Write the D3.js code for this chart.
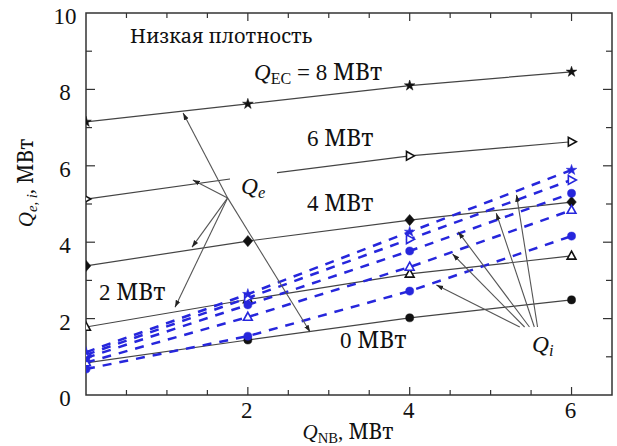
<!DOCTYPE html>
<html>
<head>
<meta charset="utf-8">
<script src="https://cdn.jsdelivr.net/npm/d3@7"></script>
<style>
  html, body { margin: 0; padding: 0; background: #fff; }
  svg { display: block; }
  text { font-family: "Times New Roman", serif; fill: #111; }
  .cyr { font-family: "Noto Serif", "DejaVu Serif", serif; }
</style>
</head>
<body>
<svg id="chart" width="617" height="446"></svg>
<script>
// Neutral-beam power, MW
const qnb = [0, 2, 4, 6];
// ECRH power levels, MW
const qecLevels = [0, 2, 4, 6, 8];

// Electron heat flux Qe (solid lines), one series per ECRH level
const qe0 = [0.84, 1.44, 2.02, 2.49];
const qe2 = [1.78, 2.50, 3.17, 3.64];
const qe4 = [3.38, 4.03, 4.58, 5.05];
const qe6 = [5.13, 5.72, 6.26, 6.63];
const qe8 = [7.15, 7.62, 8.10, 8.46];

// Ion heat flux Qi (dashed lines), one series per ECRH level
const qi0 = [0.68, 1.54, 2.72, 4.16];
const qi2 = [0.85, 2.04, 3.35, 4.84];
const qi4 = [0.97, 2.36, 3.77, 5.28];
const qi6 = [1.05, 2.54, 4.08, 5.63];
const qi8 = [1.12, 2.64, 4.27, 5.89];

const xTickLabels = [2, 4, 6];
const yTickLabels = [0, 2, 4, 6, 8, 10];

// Annotation pointers in data units: [fromX, fromY, toX, toY]
const qeArrows = [
  [1.75, 5.16, 1.20, 7.38],
  [1.75, 5.16, 1.32, 5.63],
  [1.75, 5.16, 1.31, 3.87],
  [1.75, 5.16, 1.10, 2.30],
  [1.75, 5.16, 2.77, 1.65]
];
const qiArrows = [
  [5.36, 1.78, 4.33, 2.88],
  [5.42, 1.78, 4.53, 3.69],
  [5.48, 1.78, 4.60, 4.27],
  [5.54, 1.78, 5.07, 4.76],
  [5.58, 1.78, 5.32, 5.24]
];

const qeSeries = [qe0, qe2, qe4, qe6, qe8];
const qiSeries = [qi0, qi2, qi4, qi6, qi8];
const shapes = ["circle", "triUp", "diamond", "triRight", "star"];
const blueShapes = ["circle", "triUp", "circle", "triRight", "star"];

const svg = d3.select("#chart");
const pLeft = 86, pRight = 612, pTop = 13, pBottom = 395;

const x = d3.scaleLinear().domain([0, 6.5]).range([pLeft, pRight]);
const y = d3.scaleLinear().domain([0, 10]).range([pBottom, pTop]);

const BLUE = "#2626dc";
const LINE = "#444";

const defs = svg.append("defs");
defs.append("clipPath").attr("id", "plot")
  .append("rect").attr("x", pLeft).attr("y", pTop)
  .attr("width", pRight - pLeft).attr("height", pBottom - pTop);
defs.append("marker").attr("id", "arrow")
  .attr("viewBox", "0 0 10 10").attr("refX", 10).attr("refY", 5)
  .attr("markerWidth", 7).attr("markerHeight", 7)
  .attr("markerUnits", "userSpaceOnUse")
  .attr("orient", "auto")
  .append("path").attr("d", "M0,1.5 L10,5 L0,8.5 Z").attr("fill", "#222");

// Frame
svg.append("rect").attr("x", pLeft).attr("y", pTop)
  .attr("width", pRight - pLeft).attr("height", pBottom - pTop)
  .attr("fill", "none").attr("stroke", "#333").attr("stroke-width", 1.5);

// Inward ticks on all four sides
const xt = d3.range(0.5, 6.5, 0.5);
const yt = d3.range(1, 10, 1);
const ticks = svg.append("g").attr("stroke", "#333").attr("stroke-width", 1.2);
xt.forEach(v => {
  const len = (v % 2 === 0) ? 8 : 5;
  ticks.append("line").attr("x1", x(v)).attr("x2", x(v)).attr("y1", pBottom).attr("y2", pBottom - len);
  ticks.append("line").attr("x1", x(v)).attr("x2", x(v)).attr("y1", pTop).attr("y2", pTop + len);
});
yt.forEach(v => {
  const len = (v % 2 === 0) ? 9 : 6;
  ticks.append("line").attr("y1", y(v)).attr("y2", y(v)).attr("x1", pLeft).attr("x2", pLeft + len);
  ticks.append("line").attr("y1", y(v)).attr("y2", y(v)).attr("x1", pRight).attr("x2", pRight - len);
});

// Tick labels
svg.append("g").selectAll("text").data(yTickLabels).join("text")
  .attr("x", 65).attr("y", d => y(d) + 11)
  .attr("text-anchor", "middle").attr("font-size", 23).text(d => d);
svg.append("g").selectAll("text").data(xTickLabels).join("text")
  .attr("x", d => x(d) - 1).attr("y", 418)
  .attr("text-anchor", "middle").attr("font-size", 23).text(d => d);

// Marker symbols
function markerPath(shape, s) {
  switch (shape) {
    case "circle": return d3.symbol(d3.symbolCircle, s * s * 0.8)();
    case "diamond": return `M0,${-s * 0.7}L${s * 0.6},0L0,${s * 0.7}L${-s * 0.6},0Z`;
    case "triUp": return `M0,${-s * 0.6}L${s * 0.55},${s * 0.4}L${-s * 0.55},${s * 0.4}Z`;
    case "triRight": return `M${s * 0.6},0L${-s * 0.4},${-s * 0.55}L${-s * 0.4},${s * 0.55}Z`;
    case "star": return d3.symbol(d3.symbolStar, s * s * 0.55)();
  }
}
const hollow = new Set(["triUp", "triRight"]);
const MS = 8;

const plot = svg.append("g").attr("clip-path", "url(#plot)");
const line = d3.line().x((d, i) => x(qnb[i])).y(d => y(d));

// Qe: solid lines with black markers
qeSeries.forEach(ser => {
  plot.append("path").datum(ser).attr("d", line)
    .attr("fill", "none").attr("stroke", LINE).attr("stroke-width", 1.2);
});
qeSeries.forEach((ser, k) => {
  plot.append("g").selectAll("path").data(ser).join("path")
    .attr("transform", (d, i) => `translate(${x(qnb[i])},${y(d)})`)
    .attr("d", markerPath(shapes[k], MS))
    .attr("fill", hollow.has(shapes[k]) ? "#fff" : "#111")
    .attr("stroke", "#111").attr("stroke-width", hollow.has(shapes[k]) ? 1.6 : 0.5);
});

// Qi: dashed blue lines with blue markers
qiSeries.forEach(ser => {
  plot.append("path").datum(ser).attr("d", line)
    .attr("fill", "none").attr("stroke", BLUE).attr("stroke-width", 2.5)
    .attr("stroke-dasharray", "9,8");
});
qiSeries.forEach((ser, k) => {
  plot.append("g").selectAll("path").data(ser).join("path")
    .attr("transform", (d, i) => `translate(${x(qnb[i])},${y(d)})`)
    .attr("d", markerPath(blueShapes[k], MS))
    .attr("fill", hollow.has(blueShapes[k]) ? "#fff" : BLUE)
    .attr("stroke", BLUE).attr("stroke-width", hollow.has(blueShapes[k]) ? 1.6 : 0.5);
});

// Backing box for the Qe annotation label
svg.append("rect").attr("x", 230).attr("y", 160).attr("width", 47).attr("height", 48).attr("fill", "#fff");

// Annotation pointers
const arrows = svg.append("g").attr("stroke", "#555").attr("stroke-width", 1.1);
qeArrows.concat(qiArrows).forEach(a => {
  arrows.append("line")
    .attr("x1", x(a[0])).attr("y1", y(a[1]))
    .attr("x2", x(a[2])).attr("y2", y(a[3]))
    .attr("marker-end", "url(#arrow)");
});

// Append a string as tspans, giving Cyrillic runs a serif face that covers them
function addRuns(parent, str) {
  const runs = str.match(/[\u0400-\u04FF]+|[^\u0400-\u04FF]+/g) || [];
  const spans = runs.map(r => {
    const ts = parent.append("tspan").text(r);
    if (/[\u0400-\u04FF]/.test(r)) ts.attr("class", "cyr");
    return ts;
  });
  return spans;
}

// Labels with italic symbols and subscripts
function richText(g, xPos, yPos, parts, size) {
  const t = g.append("text").attr("x", xPos).attr("y", yPos).attr("font-size", size);
  parts.forEach(p => {
    const spans = addRuns(t, p.t);
    spans.forEach(ts => { if (p.i) ts.attr("font-style", "italic"); });
    if (p.sub) spans.forEach(ts => ts.attr("font-size", size * 0.7));
    if (p.sub) spans[0].attr("dy", 4);
    if (p.up) spans[0].attr("dy", -4);
  });
  return t;
}
const labels = svg.append("g");
richText(labels, 130, 43, [{ t: "Низкая плотность" }], 20);
richText(labels, 254, 80, [{ t: "Q", i: true }, { t: "EC", sub: true }, { t: " = 8 МВт", up: true }], 23);
richText(labels, 307, 146, [{ t: "6 МВт" }], 23);
richText(labels, 307, 211, [{ t: "4 МВт" }], 23);
richText(labels, 99, 300, [{ t: "2 МВт" }], 23);
richText(labels, 340, 348, [{ t: "0 МВт" }], 23);
richText(labels, 241, 194, [{ t: "Q", i: true }, { t: "e", i: true, sub: true }], 23.5);
richText(labels, 532, 352, [{ t: "Q", i: true }, { t: "i", i: true, sub: true }], 23.5);

// Axis titles
const xTitle = richText(labels, 348, 439, [{ t: "Q", i: true }, { t: "NB", sub: true }, { t: ", МВт", up: true }], 21);
xTitle.attr("text-anchor", "middle");
const yl = richText(labels, 0, 0, [{ t: "Q", i: true }, { t: "e, i", i: true, sub: true }, { t: ", МВт", up: true }], 21);
yl.attr("transform", "translate(33,183) rotate(-90)").attr("text-anchor", "middle");
</script>
</body>
</html>
